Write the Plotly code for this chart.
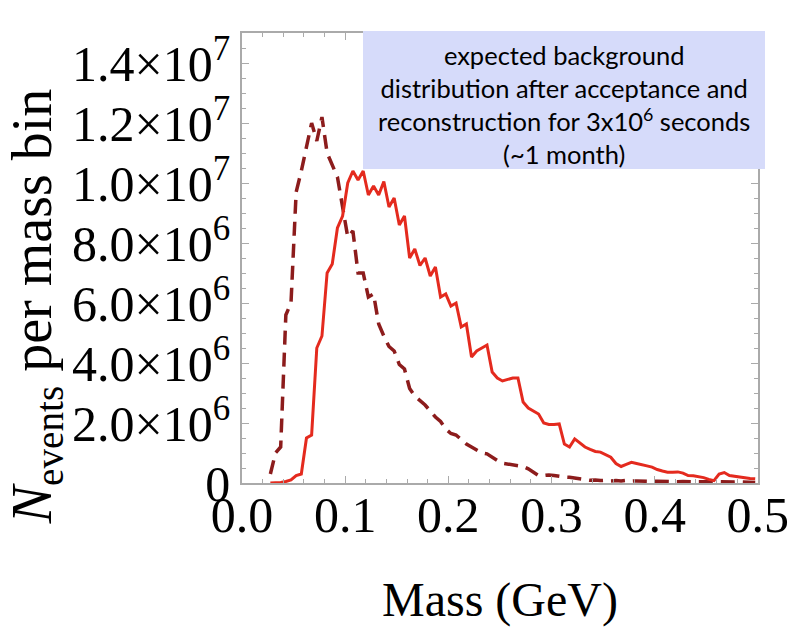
import numpy as np
import plotly.graph_objects as go

# Histogram bins: 5 MeV wide, first filled bin centred at 0.0275 GeV
bin_width = 0.005
first_center = 0.0275

# Events per mass bin, in units of 10^6
solid_counts = [
    0.0, 0.0, 0.02, 0.05, 0.1, 0.25, 0.3, 1.5, 1.6, 4.5,
    4.9, 7.0, 7.3, 8.5, 8.9, 10.0, 10.4, 10.1, 10.4, 9.6,
    9.9, 9.6, 10.05, 9.2, 9.5, 8.6, 8.9, 7.5, 7.8, 7.25,
    7.5, 6.9, 7.2, 6.2, 6.3, 5.9, 6.0, 5.2, 5.3, 4.2,
    4.4, 4.5, 4.6, 3.7, 3.5, 3.4, 3.45, 3.5, 3.5, 2.7,
    2.5, 2.4, 2.3, 2.0, 1.95, 1.95, 1.97, 1.3, 1.2, 1.47,
    1.35, 1.2, 1.12, 1.05, 1.03, 0.95, 0.86, 0.65, 0.55, 0.62,
    0.69, 0.65, 0.6, 0.57, 0.53, 0.45, 0.4, 0.36, 0.36, 0.37,
    0.33, 0.25, 0.24, 0.21, 0.18, 0.12, 0.08, 0.3, 0.35, 0.25,
    0.22, 0.2, 0.18, 0.15, 0.14,
]

dashed_counts = [
    0.3, 1.0, 1.2, 5.6, 6.0, 9.7, 10.4, 11.2, 12.0, 11.4,
    12.2, 11.0, 10.6, 10.2, 9.2, 8.2, 8.4, 7.0, 7.0, 6.2,
    6.3, 5.3, 4.9, 4.55, 4.4, 3.95, 3.8, 3.15, 2.9, 2.75,
    2.6, 2.4, 2.2, 2.05, 1.8, 1.65, 1.6, 1.45, 1.3, 1.2,
    1.1, 1.0, 0.97, 0.85, 0.75, 0.66, 0.63, 0.6, 0.58, 0.55,
    0.47, 0.35, 0.25, 0.25, 0.27, 0.25, 0.22, 0.2, 0.19, 0.17,
    0.15, 0.12, 0.09, 0.1, 0.08, 0.09, 0.07, 0.08, 0.07, 0.09,
    0.06, 0.07, 0.06, 0.07, 0.05, 0.06, 0.05, 0.06, 0.05, 0.04,
    0.05, 0.04, 0.05, 0.04, 0.04, 0.03, 0.04, 0.04, 0.03, 0.03,
    0.03, 0.04, 0.03, 0.03, 0.02,
]

x_tick_vals = [0.0, 0.1, 0.2, 0.3, 0.4, 0.5]
x_tick_text = ["0.0", "0.1", "0.2", "0.3", "0.4", "0.5"]
y_tick_vals = [0, 2e6, 4e6, 6e6, 8e6, 1e7, 1.2e7, 1.4e7]
y_tick_text = [
    "0",
    "2.0×10<sup>6</sup>",
    "4.0×10<sup>6</sup>",
    "6.0×10<sup>6</sup>",
    "8.0×10<sup>6</sup>",
    "1.0×10<sup>7</sup>",
    "1.2×10<sup>7</sup>",
    "1.4×10<sup>7</sup>",
]

box_text = (
    "expected background<br>"
    "distribution after acceptance and<br>"
    "reconstruction for 3x10<sup>6</sup> seconds<br>"
    "(~1 month)"
)

solid_x = first_center + bin_width * np.arange(len(solid_counts))
dashed_x = first_center + bin_width * np.arange(len(dashed_counts))
solid_y = np.array(solid_counts) * 1e6
dashed_y = np.array(dashed_counts) * 1e6

serif = "Liberation Serif, Times New Roman, serif"
frame_grey = "rgb(170,170,170)"

fig = go.Figure()

fig.add_trace(go.Scatter(
    x=dashed_x, y=dashed_y, mode="lines",
    line=dict(color="rgb(140,28,28)", width=3.5, dash="14px,8px"),
    showlegend=False, hoverinfo="skip",
))
fig.add_trace(go.Scatter(
    x=solid_x, y=solid_y, mode="lines",
    line=dict(color="rgb(228,42,30)", width=3),
    showlegend=False, hoverinfo="skip",
))

axis_common = dict(
    showgrid=False, zeroline=False,
    showline=True, linecolor=frame_grey, linewidth=1.5,
    mirror="ticks", ticks="inside", tickcolor=frame_grey,
    tickwidth=1, ticklen=7,
    tickfont=dict(family=serif, size=50, color="black"),
    ticklabeloverflow="allow",
    automargin=False,
)

fig.update_xaxes(
    range=[0, 0.5002], tickmode="array",
    tickvals=x_tick_vals, ticktext=x_tick_text,
    minor=dict(dtick=0.02, ticks="inside", ticklen=4, tickcolor=frame_grey),
    ticklabelstandoff=-13,
    **axis_common,
)
fig.update_yaxes(
    range=[0, 1.5e7], tickmode="array",
    tickvals=y_tick_vals, ticktext=y_tick_text,
    minor=dict(dtick=5e5, ticks="inside", ticklen=4, tickcolor=frame_grey),
    ticklabelstandoff=0,
    **axis_common,
)

# Caption box in the upper right corner
fig.add_shape(
    type="rect", xref="paper", yref="paper",
    x0=0.2345, x1=1.0136, y0=0.6978, y1=1.0044,
    fillcolor="rgb(214,219,250)", line=dict(width=0), layer="above",
)

fig.add_annotation(
    xref="paper", yref="paper", x=0.624, y=0.842,
    text=box_text, showarrow=False, align="center",
    xanchor="center", yanchor="middle",
    font=dict(family="Lato, sans-serif", size=25.5, color="black"),
)

# Axis titles
fig.add_annotation(
    xref="paper", yref="paper", x=0.5, y=-0.26,
    text="Mass (GeV)", showarrow=False,
    xanchor="center", yanchor="middle",
    font=dict(family=serif, size=48, color="black"),
)
fig.add_annotation(
    xref="paper", yref="paper", x=-0.399, y=0.393,
    text="<i>N</i><sub>events</sub> per mass bin", showarrow=False,
    textangle=-90, xanchor="center", yanchor="middle",
    font=dict(family=serif, size=56, color="black"),
)

fig.update_layout(
    width=789, height=638,
    margin=dict(l=242, r=31, t=33, b=155, autoexpand=False),
    paper_bgcolor="white", plot_bgcolor="white",
)

fig.write_html("out.html")
